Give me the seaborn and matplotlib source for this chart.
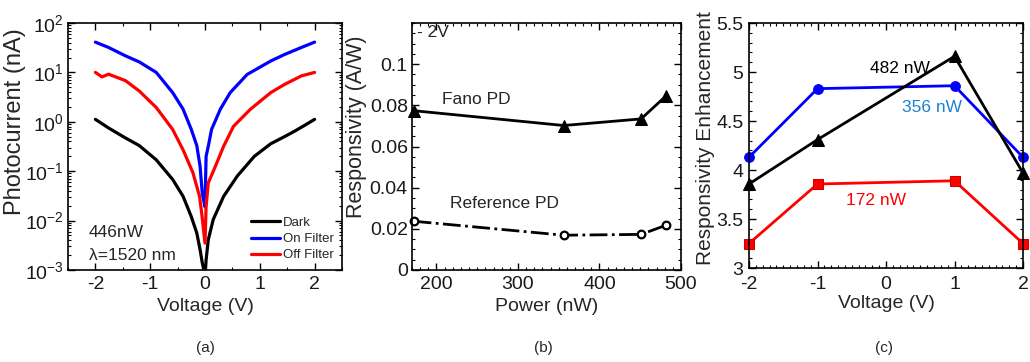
import numpy as np
import pandas as pd
import matplotlib
matplotlib.use('Agg')
import matplotlib.pyplot as plt
import seaborn as sns
from matplotlib.ticker import MultipleLocator, FuncFormatter, LogLocator, NullFormatter

# ---------------- Panel (a): I-V curves ----------------
dark_v = [-2, -1.76, -1.45, -1.2, -0.89, -0.59, -0.40, -0.25, -0.15, -0.09, -0.05, -0.02, 0,
          0.02, 0.06, 0.15, 0.34, 0.59, 0.9, 1.2, 1.45, 1.64, 1.82, 2]
dark_i = [1.12, 0.75, 0.47, 0.33, 0.17, 0.068, 0.031, 0.012, 0.0056, 0.0026, 0.0014, 0.001, 0.0007,
          0.0016, 0.0041, 0.0105, 0.031, 0.08, 0.2, 0.36, 0.5, 0.65, 0.85, 1.12]

on_v = [-2, -1.76, -1.45, -1.2, -0.89, -0.59, -0.40, -0.25, -0.15, -0.09, -0.05, 0,
        0.02, 0.06, 0.12, 0.28, 0.46, 0.77, 1.2, 1.45, 1.76, 2]
on_i = [41, 32, 21.6, 16.3, 10, 3.9, 1.8, 0.7, 0.33, 0.126, 0.036, 0.019,
        0.2, 0.32, 0.7, 1.8, 3.9, 9.1, 17, 23, 32, 41]

off_v = [-2, -1.88, -1.76, -1.45, -1.2, -0.89, -0.59, -0.40, -0.22, -0.1, -0.06, 0,
         0.02, 0.06, 0.19, 0.34, 0.52, 0.83, 1.2, 1.45, 1.76, 2]
off_i = [10, 8.1, 9.2, 6.8, 4.2, 1.95, 0.7, 0.27, 0.093, 0.031, 0.014, 0.0035,
         0.019, 0.058, 0.126, 0.32, 0.81, 1.8, 3.9, 5.7, 8.5, 10]

series_names = ['Dark', 'On Filter', 'Off Filter']
series_colors = ['black', 'blue', 'red']

# ---------------- Panel (b): responsivity vs power ----------------
power_nw = [172, 356, 451, 482]
fano_resp = [0.0774, 0.0702, 0.0734, 0.0847]
ref_resp = [0.0237, 0.0169, 0.0173, 0.0218]

# ---------------- Panel (c): enhancement vs voltage ----------------
bias_v = [-2, -1, 1, 2]
enh_482 = [3.857, 4.31, 5.16, 3.97]
enh_356 = [4.13, 4.83, 4.86, 4.13]
enh_172 = [3.25, 3.857, 3.89, 3.25]

sns.set_style('ticks')
plt.rcParams['font.family'] = ['Liberation Sans', 'DejaVu Sans']
plt.rcParams.update({
    'axes.unicode_minus': False,
    'axes.linewidth': 1.2,
    'axes.edgecolor': 'black',
    'xtick.direction': 'in', 'ytick.direction': 'in',
    'xtick.top': True, 'ytick.right': True,
    'xtick.major.size': 5, 'ytick.major.size': 5,
    'xtick.minor.size': 2.5, 'ytick.minor.size': 2.5,
    'xtick.major.width': 1.0, 'ytick.major.width': 1.0,
    'xtick.minor.width': 0.8, 'ytick.minor.width': 0.8,
    'xtick.color': 'black', 'ytick.color': 'black',
    'xtick.labelcolor': '#1a1a1a', 'ytick.labelcolor': '#1a1a1a',
    'xtick.minor.visible': True, 'ytick.minor.visible': True,
    'xtick.major.pad': 4, 'ytick.major.pad': 3,
})

TICK = 14
XL = 14
fig = plt.figure(figsize=(10.3, 3.62), dpi=100)
W, H = 1030, 362

def ax_at(l, r, t, b):
    return fig.add_axes([l / W, 1 - b / H, (r - l) / W, (b - t) / H])

gfmt = FuncFormatter(lambda v, p: f'{v:g}')

# ---- (a)
axa = ax_at(68, 342, 23, 270)
frames = []
for name, vv, ii in zip(series_names, [dark_v, on_v, off_v], [dark_i, on_i, off_i]):
    frames.append(pd.DataFrame({'Voltage': vv, 'Current': ii, 'Series': name}))
df_a = pd.concat(frames, ignore_index=True)
sns.lineplot(data=df_a, x='Voltage', y='Current', hue='Series', hue_order=series_names,
             palette=dict(zip(series_names, series_colors)), estimator=None, sort=False,
             lw=2.3, ax=axa)
axa.set_yscale('log')
axa.set_xlim(-2.5, 2.5)
axa.set_ylim(1e-3, 1e2)
axa.xaxis.set_major_locator(MultipleLocator(1))
axa.xaxis.set_minor_locator(MultipleLocator(0.5))
axa.yaxis.set_major_locator(LogLocator(base=10, numticks=10))
axa.yaxis.set_minor_locator(LogLocator(base=10, subs=np.arange(2, 10), numticks=10))
axa.yaxis.set_minor_formatter(NullFormatter())
axa.tick_params(labelsize=TICK)
axa.set_xlabel('Voltage (V)', fontsize=XL)
axa.set_ylabel('Photocurrent (nA)', fontsize=17)
axa.xaxis.set_label_coords(0.5, -0.115)
axa.yaxis.set_label_coords(-0.153, 0.6)
axa.legend(title=None, loc='lower right', frameon=False, fontsize=9.5, handlelength=2.2,
           handletextpad=0.2, labelspacing=0.3, borderaxespad=0.25)
axa.text(0.077, 0.15, '446nW', transform=axa.transAxes, fontsize=12.5, va='center', ha='left')
axa.text(0.077, 0.057, 'λ=1520 nm', transform=axa.transAxes, fontsize=12.5, va='center', ha='left')

# ---- (b)
axb = ax_at(412, 681, 23, 270)
sns.lineplot(x=power_nw, y=fano_resp, ax=axb, color='black', lw=2, marker='^', markersize=8,
             markeredgecolor='black', clip_on=False)
sns.lineplot(x=power_nw, y=ref_resp, ax=axb, color='black', lw=2, linestyle='-.', marker='o',
             markersize=5.5, markerfacecolor='white', markeredgecolor='black', markeredgewidth=1.6,
             clip_on=False)
axb.set_xlim(170, 500)
axb.set_ylim(0, 0.12)
axb.xaxis.set_major_locator(MultipleLocator(100))
axb.xaxis.set_minor_locator(MultipleLocator(10))
axb.yaxis.set_minor_locator(MultipleLocator(0.005))
axb.set_yticks([0, 0.02, 0.04, 0.06, 0.08, 0.1])
axb.yaxis.set_major_formatter(gfmt)
axb.tick_params(labelsize=TICK)
axb.set_xlabel('Power (nW)', fontsize=XL)
axb.set_ylabel('Responsivity (A/W)', fontsize=15.5)
axb.xaxis.set_label_coords(0.5, -0.115)
axb.yaxis.set_label_coords(-0.167, 0.58)
axb.text(0.02, 0.96, '- 2V', transform=axb.transAxes, fontsize=12.5, va='center', ha='left')
axb.text(249, 0.0826, 'Fano PD', fontsize=12.5, va='center', ha='center')
axb.text(284, 0.0323, 'Reference PD', fontsize=12.5, va='center', ha='center')

# ---- (c)
axc = ax_at(749, 1023, 23, 268)
sns.lineplot(x=bias_v, y=enh_356, ax=axc, color='blue', lw=2, marker='o', markersize=7,
             markeredgecolor='blue', clip_on=False)
sns.lineplot(x=bias_v, y=enh_482, ax=axc, color='black', lw=2, marker='^', markersize=8,
             markeredgecolor='black', clip_on=False)
sns.lineplot(x=bias_v, y=enh_172, ax=axc, color='red', lw=2, marker='s', markersize=6.5,
             markeredgecolor='#cc0000', clip_on=False)
axc.set_xlim(-2, 2)
axc.set_ylim(3, 5.5)
axc.xaxis.set_major_locator(MultipleLocator(1))
axc.xaxis.set_minor_locator(MultipleLocator(0.1))
axc.yaxis.set_major_locator(MultipleLocator(0.5))
axc.yaxis.set_minor_locator(MultipleLocator(0.1))
axc.yaxis.set_major_formatter(gfmt)
axc.tick_params(labelsize=TICK)
axc.tick_params(axis='x', which='major', pad=6)
axc.tick_params(axis='y', which='major', pad=4)
axc.set_xlabel('Voltage (V)', fontsize=XL)
axc.set_ylabel('Responsivity Enhancement', fontsize=15)
axc.xaxis.set_label_coords(0.5, -0.11)
axc.yaxis.set_label_coords(-0.125, 0.53)
axc.text(0.2, 5.04, '482 nW', fontsize=12.5, va='center', ha='center', color='black')
axc.text(0.67, 4.64, '356 nW', fontsize=12.5, va='center', ha='center', color='#1f80d0')
axc.text(-0.15, 3.69, '172 nW', fontsize=12.5, va='center', ha='center', color='red')

for lab, x in [('(a)', 205), ('(b)', 543), ('(c)', 884)]:
    fig.text(x / W, 1 - 348 / H, lab, fontsize=11, ha='center', va='center')

fig.savefig('out.png', dpi=100)
